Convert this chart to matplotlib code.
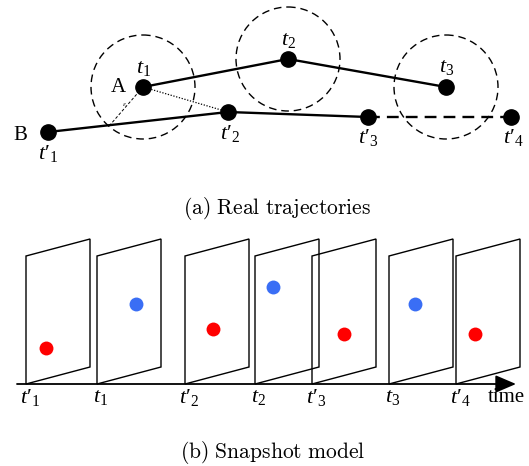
import matplotlib
matplotlib.use("Agg")
import matplotlib.pyplot as plt
from matplotlib.patches import Circle, Polygon

plt.rcParams["mathtext.fontset"] = "custom"
plt.rcParams["mathtext.rm"] = "Liberation Serif"
plt.rcParams["mathtext.it"] = "Liberation Serif:italic"

W, H = 529, 466
P = "\u2032"

# ---- (a) Real trajectories: point positions (pixel units) ----
trajA_x = [143, 288, 446]
trajA_y = [87, 59, 87]
trajA_labels = [r"$t_1$", r"$t_2$", r"$t_3$"]
trajA_label_dy = [-19, -19, -20]

trajB_x = [48, 228, 368, 511]
trajB_y = [132, 112, 117, 117]
trajB_labels = ["$t" + P + "_1$", "$t" + P + "_2$", "$t" + P + "_3$", "$t" + P + "_4$"]
trajB_label_dx = [0, 2, 0, 2]

circle_r = 52

# ---- (b) Snapshot model ----
snap_x = [26, 97, 185, 255, 312, 389, 456]
snap_labels = ["$t" + P + "_1$", r"$t_1$", "$t" + P + "_2$", r"$t_2$",
               "$t" + P + "_3$", r"$t_3$", "$t" + P + "_4$"]
dot_x = [46, 136, 213, 273, 344, 415, 475]
dot_y = [348, 304, 329, 287, 334, 304, 334]
dot_color = ["#ff0000", "#3a6ef5", "#ff0000", "#3a6ef5", "#ff0000", "#3a6ef5", "#ff0000"]

fig = plt.figure(figsize=(W / 100, H / 100), dpi=100)
ax = fig.add_axes([0, 0, 1, 1])
ax.set_xlim(0, W)
ax.set_ylim(H, 0)
ax.axis("off")

lab_kw = dict(fontsize=16, math_fontfamily="custom", ha="center", va="center")

# dashed circles around trajectory A points
for cx, cy in zip(trajA_x, trajA_y):
    ax.add_patch(Circle((cx, cy), circle_r, fill=False, ls=(0, (5.5, 3.5)), lw=1.0, ec="black"))

# trajectory A
ax.plot(trajA_x, trajA_y, color="black", lw=1.7, solid_capstyle="round")
ax.plot(trajA_x, trajA_y, "o", color="black", ms=11)
# trajectory B
ax.plot(trajB_x[:3], trajB_y[:3], color="black", lw=1.7)
ax.plot(trajB_x[2:], trajB_y[2:], color="black", lw=1.7, ls=(0, (5, 3)))
ax.plot(trajB_x, trajB_y, "o", color="black", ms=11)

# dotted link t1 -> t'2 and radius line
ax.plot([trajA_x[0], trajB_x[1]], [trajA_y[0], trajB_y[1]], color="black", lw=0.9, ls=(0, (1, 1.3)))
ax.plot([trajA_x[0], 110], [trajA_y[0], 125], color="black", lw=0.7, ls=(0, (3, 2)))
ax.text(124, 104, r"$\epsilon$", fontsize=5, math_fontfamily="stix", ha="center", va="center")

for x, y, s, dy in zip(trajA_x, trajA_y, trajA_labels, trajA_label_dy):
    ax.text(x + 1, y + dy, s, **lab_kw)
for x, y, s, dx in zip(trajB_x, trajB_y, trajB_labels, trajB_label_dx):
    ax.text(x + dx, y + 21, s, **lab_kw)

ax.text(118, 88, "A", fontsize=15, family="Liberation Serif", ha="center", va="center")
ax.text(20, 136, "B", fontsize=15, family="Liberation Serif", ha="center", va="center")

cap_kw = dict(fontsize=15.5, math_fontfamily="cm", ha="center", va="center")
ax.text(277, 209, r"$\mathrm{(a)\ Real\ trajectories}$", **cap_kw)

# ---- snapshot panels ----
base_y = 384
pw, ph, skew = 64, 128, 17
for x0 in snap_x:
    pts = [(x0, base_y), (x0, base_y - ph), (x0 + pw, base_y - ph - skew), (x0 + pw, base_y - skew)]
    ax.add_patch(Polygon(pts, closed=True, fill=False, ec="black", lw=1.0, joinstyle="miter"))
for x, y, c in zip(dot_x, dot_y, dot_color):
    ax.plot(x, y, "o", color=c, ms=10, mec="none")

ax.annotate("", xy=(516, base_y), xytext=(17, base_y),
            arrowprops=dict(arrowstyle="-|>,head_length=0.7,head_width=0.3", lw=1.3, color="black",
                            mutation_scale=18, shrinkA=0, shrinkB=0))
for x0, s in zip(snap_x, snap_labels):
    ax.text(x0 + 4, base_y + 13, s, **lab_kw)
ax.text(506, base_y + 13, "time", fontsize=15, family="Liberation Serif", ha="center", va="center")

ax.text(273, 453, r"$\mathrm{(b)\ Snapshot\ model}$", **cap_kw)

fig.savefig("out.png", dpi=100)
